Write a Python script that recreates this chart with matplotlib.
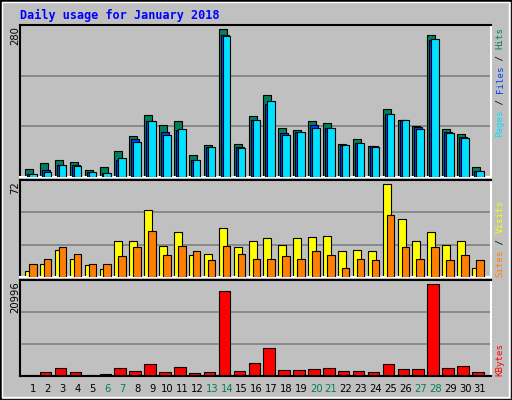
import matplotlib
matplotlib.use("Agg")
import matplotlib.pyplot as plt
from matplotlib.patches import Rectangle

days = list(range(1, 32))
weekends = [6, 7, 13, 14, 20, 21, 27, 28]
hits = [16,27,33,29,14,18,50,77,117,99,105,41,61,280,63,115,155,92,88,105,103,63,71,58,128,107,96,269,90,82,18]
files = [6,14,23,23,10,8,33,71,105,86,88,33,56,269,56,107,138,84,86,99,92,60,65,58,120,107,94,259,86,75,12]
pages = [6,10,23,20,10,8,35,67,105,80,90,33,56,267,54,107,143,80,86,92,92,60,65,56,120,107,90,261,84,73,12]
visits = [5,10,21,14,9,6,28,28,52,24,35,17,18,38,23,28,30,25,30,31,32,20,21,20,72,45,28,35,25,28,7]
sites = [10,14,23,18,10,10,16,23,36,17,24,20,13,24,18,14,14,16,14,20,17,7,14,13,48,23,14,23,13,17,13]
kbytes = [306,996,1916,996,306,536,1916,1226,2835,996,2146,766,996,19387,1226,3065,6283,1456,1456,1686,1916,1226,1226,996,2835,1686,1686,20996,1916,2375,996]

BG = "#C0C0C0"
W, H = 512, 400
fig = plt.figure(figsize=(W/100, H/100), dpi=100, facecolor=BG)
mono = "DejaVu Sans Mono"

def fx(px): return px / W
def fy(py): return 1 - py / H

fig.patches.append(Rectangle((0, 0), 1, 1, transform=fig.transFigure, fill=False, ec="black", lw=2))
fig.patches.append(Rectangle((fx(2), fy(397)), fx(507), 395/H, transform=fig.transFigure, fill=False, ec="white", lw=1))

unit = 14.9
xmax = 471 / unit
def make_ax(top, bottom, ymax):
    ax = fig.add_axes([fx(20), fy(bottom), fx(471), (bottom - top)/H])
    ax.set_facecolor(BG)
    ax.set_xlim(0, xmax); ax.set_ylim(0, ymax)
    ax.set_xticks([]); ax.set_yticks([])
    for s in ["top", "left"]:
        ax.spines[s].set_color("black")
    for s in ["bottom", "right"]:
        ax.spines[s].set_color("white")
    for sp in ax.spines.values(): sp.set_linewidth(1.5)
    for f in (1/3, 2/3):
        ax.axhline(ymax*f, color="#808080", lw=1.2, zorder=0)
    return ax

x0 = [(i - 1) + 5/unit for i in days]
bw = 8/unit

ax1 = make_ax(25, 177, 287.5)
ax1.bar(x0, hits, width=bw, align="edge", color="#00805C", ec="black", lw=0.8, zorder=2)
ax1.bar([x + 2/unit for x in x0], files, width=bw, align="edge", color="#0040FF", ec="black", lw=0.8, zorder=3)
ax1.bar([x + 4/unit for x in x0], pages, width=7.5/unit, align="edge", color="#00E0FF", ec="black", lw=0.8, zorder=4)

ax2 = make_ax(180, 277, 75.3)
ax2.bar(x0, visits, width=bw, align="edge", color="#FFFF00", ec="black", lw=0.8, zorder=2)
ax2.bar([x + 4/unit for x in x0], sites, width=7.5/unit, align="edge", color="#FF8000", ec="black", lw=0.8, zorder=3)

ax3 = make_ax(280, 376, 21840)
ax3.bar(x0, kbytes, width=11.5/unit, align="edge", color="#FF0000", ec="black", lw=0.8, zorder=2)
ax3.spines["bottom"].set_color("black")

for i in days:
    c = "#00805C" if i in weekends else "black"
    fig.text(fx(20 + ((i - 1) + 13/unit) * unit), fy(389), str(i), ha="center", va="center",
             fontsize=7.2, color=c, family="DejaVu Sans")

fig.text(fx(20), fy(15), "Daily usage for January 2018", color="#0000FF", fontsize=8.5,
         fontweight="bold", family=mono, va="center", ha="left")

for label, py in [("280", 26), ("72", 181), ("20996", 281)]:
    fig.text(fx(15), fy(py), label, rotation=90, ha="center", va="top", fontsize=7.2, family="DejaVu Sans")

CH = 5.5
def right_label(parts, py_bottom):
    y = py_bottom
    for txt, col in parts:
        fig.text(fx(500), fy(y), txt, rotation=90, ha="center", va="bottom",
                 color=col, fontsize=6.6, family=mono)
        y -= len(txt) * CH
right_label([("Pages", "#00E0FF"), (" / ", "black"), ("Files", "#0040FF"), (" / ", "black"), ("Hits", "#00805C")], 137)
right_label([("Sites", "#FF8000"), (" / ", "black"), ("Visits", "#FFFF00")], 277)
right_label([("KBytes", "#FF0000")], 376)

fig.savefig("out.png", dpi=100, facecolor=BG)
